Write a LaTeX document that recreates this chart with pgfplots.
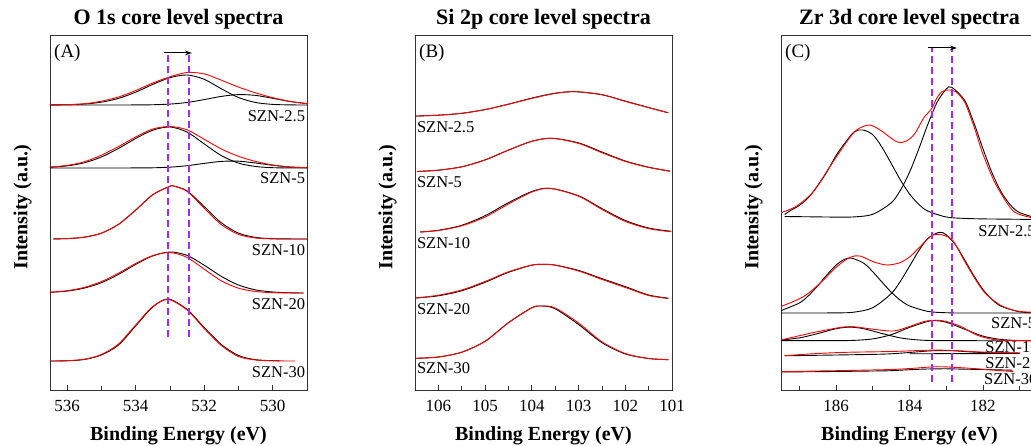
\documentclass[border=0pt]{standalone}
\usepackage{fontspec}
\setmainfont{Liberation Serif}
\usepackage{pgfplots}
\pgfplotsset{compat=1.18}
\usetikzlibrary{arrows.meta}

\definecolor{vio}{RGB}{165,40,245}
\newcommand\ttl{\bfseries\fontsize{22}{26}\selectfont}
\newcommand\axl{\bfseries\fontsize{20}{24}\selectfont}
\newcommand\lbl{\fontsize{16.5}{19}\selectfont}

\pgfplotsset{
  xps/.style={
    scale only axis, width=257pt, height=355pt,
    ymin=0, ymax=355, x dir=reverse, ytick=\empty,
    axis line style={black!80, line width=0.9pt},
    tick align=inside, xtick pos=left,
    major tick length=5pt, minor tick length=4pt,
    tick style={black!80, line width=0.7pt},
    clip mode=individual,
    /pgf/number format/assume math mode=true,
    xticklabel style={font=\fontsize{17}{19}\selectfont, anchor=base, yshift=-21.7pt},
    title style={font=\ttl, at={(0.5,1)}, anchor=base, yshift=4.5pt},
    xlabel style={font=\axl, at={(0.5,0)}, anchor=base, yshift=-51pt},
    ylabel style={font=\axl, at={(-0.107,0.515)}, anchor=center, rotate=0},
    xlabel={Binding Energy (eV)}, ylabel={Intensity (a.u.)},
  },
  blk/.style={black, line width=0.9pt, smooth, no markers},
  rd/.style={red, line width=0.9pt, smooth, no markers},
  dsh/.style={vio, line width=1.5pt, dash pattern=on 7pt off 4pt, no markers},
  arr/.style={black, line width=1pt, no markers, -{Stealth[length=7pt,width=5pt]}},
}

\begin{document}
\begin{tikzpicture}
\useasboundingbox (0pt,0pt) rectangle (1031pt,446pt);
\clip (0pt,0pt) rectangle (1031pt,446pt);

% ---------------- (A) O 1s
\begin{axis}[xps, at={(50pt,56pt)}, anchor=south west,
  xmin=529, xmax=536.5, xtick={530,532,534,536}, minor xtick={529,531,533,535},
  title={O 1s core level spectra}]
% SZN-2.5
\addplot[blk] coordinates {(536.5,285.1) (536,285.3) (535.5,286.0) (535,287.8) (534.5,291.6) (534,297.8) (533.5,305.6) (533,312.3) (532.5,315.0) (532,310.7) (531.5,301.2) (531,292.5) (530.5,287.5) (530,285.6) (529.5,285.1) (529,285.0)};
\addplot[blk] coordinates {(536.5,285) (534,285.05) (533.5,285.25) (533,285.9) (532.5,287.5) (532,290.4) (531.5,293.6) (531,295.4) (530.5,294.6) (530,291.7) (529.5,288.5) (529,286.4)};
\addplot[rd] coordinates {(536.5,285.1) (536,285.3) (535.5,286.2) (535,288.8) (534.5,293.0) (534,299.5) (533.5,307.0) (533,313.2) (532.5,317.5) (532,316.1) (531.5,309.8) (531,302.9) (530.5,297.1) (530,292.3) (529.5,288.6) (529,286.4)};
% SZN-5
\addplot[blk] coordinates {(536.5,222.7) (536,224.1) (535.5,227.2) (535,233.0) (534.5,241.6) (534,251.5) (533.5,259.8) (533,263.0) (532.5,257.9) (532,246.1) (531.5,234.4) (531,226.9) (530.5,223.5) (530,222.3) (529.5,222.05) (529,222)};
\addplot[blk] coordinates {(536.5,222) (534,222.05) (533.5,222.2) (533,222.8) (532.5,224.3) (532,226.6) (531.5,228.6) (531,228.8) (530.5,227.0) (530,224.7) (529.5,223.0) (529,222.3)};
\addplot[rd] coordinates {(536.5,223.0) (536,224.6) (535.5,228.2) (535,234.8) (534.5,243.5) (534,253.0) (533.5,261.0) (533,263.5) (532.5,260.2) (532,250.7) (531.5,241.0) (531,233.7) (530.5,228.5) (530,225.0) (529.5,223.05) (529,222.3)};
% SZN-10
\addplot[blk] coordinates {(536.4,151.1) (536,151.4) (535.5,152.8) (535,156.8) (534.5,165.7) (534,179.9) (533.5,195.3) (533,203.7) (532.9,204) (532.5,199.1) (532,183.4) (531.5,167.2) (531,156.9) (530.5,152.6) (530,151.3) (529.5,151.05) (529,151)};
\addplot[rd] coordinates {(536.4,151.1) (536,151.4) (535.5,152.8) (535,156.8) (534.5,165.7) (534,179.9) (533.5,195.3) (533,203.7) (532.9,204) (532.5,198.6) (532,181.8) (531.5,165.4) (531,155.6) (530.5,152.0) (530,151.1) (529.5,151) (529,151)};
% SZN-20
\addplot[blk] coordinates {(536.5,97.7) (536,98.9) (535.5,101.9) (535,107.3) (534.5,115.6) (534,125.6) (533.5,134.1) (533,138.0) (532.5,134.6) (532,124.8) (531.5,113.6) (531,105.0) (530.5,100.1) (530,98.0) (529.5,97.2) (529.1,97)};
\addplot[rd] coordinates {(536.5,97.8) (536,99.3) (535.5,102.6) (535,108.4) (534.5,116.8) (534,126.5) (533.5,134.4) (533,137.5) (532.5,132.5) (532,120.8) (531.5,109.2) (531,101.8) (530.5,98.5) (530,97.3) (529.5,97.05) (529.1,97)};
% SZN-30
\addplot[blk] coordinates {(536.5,29) (536,29.2) (535.5,30.5) (535,35) (534.5,45) (534,64) (533.5,83) (533.05,91) (532.5,80.5) (532,62.5) (531.5,45.5) (531,34.5) (530.5,30.3) (530,29.3) (529.8,29.2)};
\addplot[rd] coordinates {(536.5,29) (536,29.3) (535.5,30.8) (535,35.5) (534.5,46) (534,65) (533.5,83.5) (533.05,90.5) (532.5,80) (532,61.5) (531.5,44.5) (531,33.5) (530.5,30) (530,29.2) (529.5,29) (529.35,29)};
% markers of the shift
\addplot[dsh] coordinates {(533.06,53) (533.06,337)};
\addplot[dsh] coordinates {(532.44,53) (532.44,337)};
\addplot[arr] coordinates {(533.17,337) (532.36,337)};
\node[anchor=base west, inner sep=0, font=\fontsize{19}{22}\selectfont] at (rel axis cs:0.0156,0.937) {(A)};
\node[anchor=east, inner sep=0, font=\lbl] at (axis cs:529.05,274) {SZN-2.5};
\node[anchor=east, inner sep=0, font=\lbl] at (axis cs:529.05,212) {SZN-5};
\node[anchor=east, inner sep=0, font=\lbl] at (axis cs:529.05,140) {SZN-10};
\node[anchor=east, inner sep=0, font=\lbl] at (axis cs:529.05,86) {SZN-20};
\node[anchor=east, inner sep=0, font=\lbl] at (axis cs:529.05,18) {SZN-30};
\end{axis}

% ---------------- (B) Si 2p
\begin{axis}[xps, at={(415pt,56pt)}, anchor=south west,
  xmin=101, xmax=106.5, xtick={101,102,103,104,105,106},
  minor xtick={101.5,102.5,103.5,104.5,105.5,106.5},
  title={Si 2p core level spectra}]
\addplot[blk] coordinates {(106.5,273.9) (106,274.8) (105.5,276.7) (105,280.4) (104.5,285.8) (104,291.9) (103.5,296.8) (103.07,298.3) (102.5,295.2) (102,288.9) (101.5,282.4) (101.08,277.2)};
\addplot[rd] coordinates {(106.5,273.9) (106,274.8) (105.5,276.7) (105,280.4) (104.5,285.8) (104,291.6) (103.5,296.6) (103.07,298.3) (102.5,295.4) (102,288.6) (101.5,282.4) (101.08,277.2)};
\addplot[blk] coordinates {(106.46,218.5) (106,219.8) (105.5,223.2) (105,230.1) (104.5,239.9) (104,248.7) (103.57,251.7) (103,247.1) (102.5,238.0) (102,229.0) (101.5,222.8) (101.04,218.8)};
\addplot[rd] coordinates {(106.46,218.5) (106,219.8) (105.5,223.2) (105,230.1) (104.5,239.9) (104,248.7) (103.57,251.7) (103,246.6) (102.5,237.3) (102,228.6) (101.5,222.6) (101.04,218.8)};
\addplot[blk] coordinates {(106.39,158.0) (106,159.7) (105.5,164.7) (105,174.3) (104.5,187.3) (104,198.5) (103.61,201.7) (103,194.2) (102.5,181.4) (102,169.5) (101.5,162.0) (101.02,158.7)};
\addplot[rd] coordinates {(106.39,158.0) (106,159.5) (105.5,164.2) (105,173.0) (104.5,186.0) (104,198.0) (103.61,201.7) (103,193.8) (102.5,180.6) (102,168.6) (101.5,161.4) (101.02,158.2)};
\addplot[blk] coordinates {(106.48,92.0) (106,94.2) (105.5,99.2) (105,107.7) (104.5,117.7) (104,124.8) (103.76,125.7) (103.5,124.9) (103,119.6) (102.5,111.4) (102,103.4) (101.5,95.0) (101.08,91.8)};
\addplot[rd] coordinates {(106.48,92.0) (106,94.8) (105.5,100.0) (105,108.5) (104.5,118.2) (104,124.9) (103.76,125.6) (103.5,124.8) (103,119.0) (102.5,110.6) (102,102.5) (101.5,94.5) (101.08,91.5)};
\addplot[blk] coordinates {(106.48,31.7) (106,33.0) (105.5,37.8) (105,48.7) (104.5,67.3) (104,82.2) (103.78,84) (103.5,81.2) (103,65.5) (102.5,47.4) (102,36.1) (101.5,31.5) (101.08,30.35)};
\addplot[rd] coordinates {(106.48,31.7) (106,33.0) (105.5,37.8) (105,48.7) (104.5,67.3) (104,82.2) (103.78,84) (103.5,82) (103,67) (102.5,48.2) (102,36.5) (101.5,31.5) (101.08,30.3)};
\node[anchor=base west, inner sep=0, font=\fontsize{19}{22}\selectfont] at (rel axis cs:0.0156,0.937) {(B)};
\node[anchor=west, inner sep=0, font=\lbl] at (axis cs:106.46,263) {SZN-2.5};
\node[anchor=west, inner sep=0, font=\lbl] at (axis cs:106.46,208) {SZN-5};
\node[anchor=west, inner sep=0, font=\lbl] at (axis cs:106.46,147) {SZN-10};
\node[anchor=west, inner sep=0, font=\lbl] at (axis cs:106.46,81) {SZN-20};
\node[anchor=west, inner sep=0, font=\lbl] at (axis cs:106.46,22) {SZN-30};
\end{axis}

% ---------------- (C) Zr 3d
\begin{axis}[xps, at={(781pt,56pt)}, anchor=south west,
  xmin=180.5, xmax=187.5, xtick={180,182,184,186}, minor xtick={181,183,185,187},
  title={Zr 3d core level spectra}]
% SZN-2.5
\addplot[blk] coordinates {(187.4,175.5) (187.25,179.3) (187,184.6) (186.75,192.5) (186.5,204.5) (186.25,218.2) (186,234.5) (185.75,247.4) (185.5,258.4) (185.27,260) (185,255.3) (184.75,242.8) (184.5,226.6) (184.25,210.2) (184,196.1) (183.75,185.7) (183.5,178.9) (183,173.0) (182.5,171.6) (182,171.1) (181.5,170.9) (181,170.7) (180.5,170.5)};
\addplot[blk] coordinates {(187.4,173.5) (186.5,173.1) (186,172.9) (185.5,173.1) (185,175.7) (184.5,187.1) (184.25,199.6) (184,217.7) (183.75,240.8) (183.5,265.7) (183.25,287.6) (183,300.9) (182.85,302.7) (182.5,289.8) (182.25,267.5) (182,241.4) (181.75,217.0) (181.5,197.9) (181.25,185.0) (181,177.4) (180.5,171.6)};
\addplot[rd] coordinates {(187.5,177.3) (187.07,184) (186.62,198.3) (186.17,223.3) (185.71,248.3) (185.44,260) (185.1,265) (184.8,260) (184.35,248.3) (184.08,249) (183.85,256.7) (183.62,271.7) (183.39,281.7) (183.26,291.7) (183.12,298.3) (182.95,300) (182.75,298.5) (182.5,288) (182.25,264) (182.0,236) (181.67,207) (181.25,182) (181.0,175.5) (180.5,171)};
% SZN-5
\addplot[blk] coordinates {(187.5,79.4) (187,87) (186.75,94.4) (186.5,104.2) (186.25,115.1) (186,124.9) (185.8,130.1) (185.6,132) (185.25,126.9) (185,118.2) (184.75,107.9) (184.5,97.9) (184.25,89.8) (184,84.1) (183.5,78.6) (183,77.25) (182.5,77) (180.5,77)};
\addplot[blk] coordinates {(187.5,77) (186,77.1) (185.5,77.9) (185,82.3) (184.5,96.3) (184.25,108.6) (184,123.7) (183.75,139.1) (183.5,151.5) (183.19,157.7) (183,155.2) (182.75,145.2) (182.5,130.3) (182.25,114.4) (182,100.6) (181.75,90.3) (181.5,83.7) (181,78.2) (180.5,77.1)};
\addplot[rd] coordinates {(187.5,83.5) (186.89,93.3) (186.44,106.7) (185.98,123.3) (185.62,132.7) (185.35,134) (184.99,128.3) (184.62,125) (184.26,127.3) (183.99,133.3) (183.8,140) (183.44,153.3) (183.26,155.7) (183.05,154.5) (182.81,149) (182.44,125) (181.99,99) (181.53,85) (181.08,79) (180.5,77.5)};
% SZN-10
\addplot[blk] coordinates {(187.5,50) (187,52.1) (186.5,56.4) (186,61.3) (185.62,62.8) (185.25,61.3) (184.75,56.5) (184.25,52.1) (183.75,50) (183.25,49.4) (182.5,49.3) (180.5,49.3)};
\addplot[blk] coordinates {(187.5,49.3) (186,49.35) (185.5,49.65) (185,51.1) (184.5,55.3) (184,62.6) (183.5,68.6) (183.3,69.3) (183,67.8) (182.5,60.8) (182,53.9) (181.5,50.5) (181,49.5) (180.5,49.3)};
\addplot[rd] coordinates {(187.5,50) (186.71,56.7) (186.2,60.5) (185.8,63) (185.5,63.2) (185.0,60.8) (184.44,59) (184.0,63.5) (183.6,68.5) (183.3,69.8) (183.0,68.5) (182.6,63.5) (182.17,55) (181.72,50.5) (181.2,49.5) (180.5,49.3)};
% SZN-20
\addplot[blk] coordinates {(187.4,34.2) (186,35) (185,35.6) (184.5,36.2) (184,37.5) (183.5,39.0) (183.2,39.4) (182.8,39.2) (182.3,38.0) (181.8,37.2) (181,36.8)};
\addplot[blk] coordinates {(184,36.2) (182.5,36.4) (181,36.5)};
\addplot[rd] coordinates {(187.4,34.3) (186.5,36.5) (185.7,37.7) (184.5,38.5) (183.44,39.8) (182.8,39.5) (182.08,38) (181.5,37.5) (180.99,37)};
% SZN-30
\addplot[blk] coordinates {(187.5,18) (186,18.5) (185,19) (184.5,19.3) (184,20.3) (183.5,21) (183,21.2) (182.5,20.8) (182,20.5) (181.2,19.8)};
\addplot[rd] coordinates {(187.5,18.3) (186.5,19) (185.7,19.5) (184.5,20.5) (183.9,21.7) (183.26,23.3) (182.7,22.5) (182.08,21) (181.6,19.5) (181.17,18.5)};
% markers of the shift
\addplot[dsh] coordinates {(183.39,8) (183.39,342)};
\addplot[dsh] coordinates {(182.84,8) (182.84,342)};
\addplot[arr] coordinates {(183.5,342) (182.71,342)};
\node[anchor=base west, inner sep=0, font=\fontsize{19}{22}\selectfont] at (rel axis cs:0.0156,0.937) {(C)};
\node[anchor=west, inner sep=0, font=\lbl] at (axis cs:182.13,159) {SZN-2.5};
\node[anchor=west, inner sep=0, font=\lbl] at (axis cs:181.78,67) {SZN-5};
\node[anchor=west, inner sep=0, font=\lbl] at (axis cs:181.94,43) {SZN-10};
\node[anchor=west, inner sep=0, font=\lbl] at (axis cs:181.94,27) {SZN-20};
\node[anchor=west, inner sep=0, font=\lbl] at (axis cs:181.97,11) {SZN-30};
\end{axis}
\end{tikzpicture}
\end{document}
